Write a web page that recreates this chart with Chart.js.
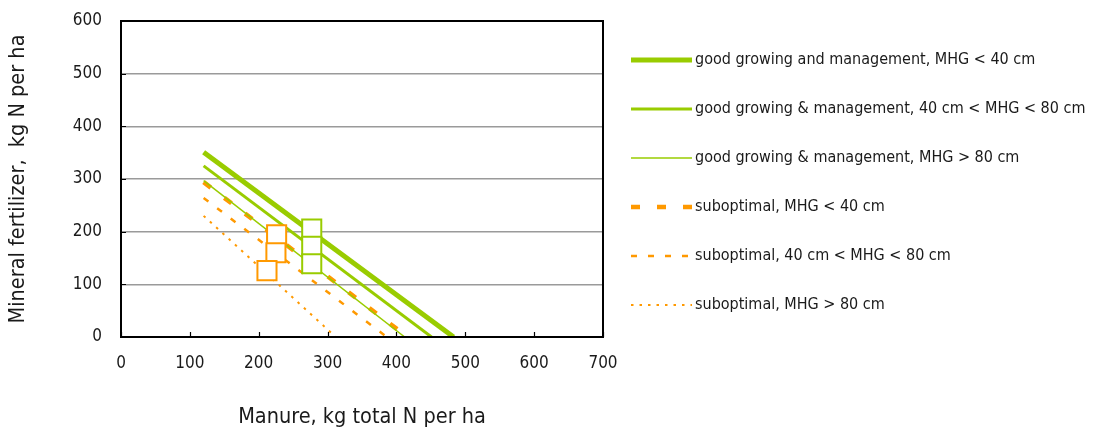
<!DOCTYPE html>
<html>
<head>
<meta charset="utf-8">
<script src="https://cdn.jsdelivr.net/npm/chart.js@4.4.0/dist/chart.umd.min.js"></script>
<style>
  html, body { margin: 0; padding: 0; background: #ffffff; }
  #wrap { width: 1093px; height: 435px; }
</style>
</head>
<body>
<div id="wrap"><canvas id="c" width="1093" height="435"></canvas></div>
<script>
// Recommended N rates: manure N (x) against mineral fertilizer N (y)
const seriesLabels = [
  'good growing and management, MHG < 40 cm',
  'good growing & management, 40 cm < MHG < 80 cm',
  'good growing & management, MHG > 80 cm',
  'suboptimal, MHG < 40 cm',
  'suboptimal, 40 cm < MHG < 80 cm',
  'suboptimal, MHG > 80 cm'
];
const seriesManure = [
  [120, 483],
  [120, 451],
  [120, 412],
  [120, 416],
  [120, 386],
  [120, 312]
];
const seriesMineral = [
  [351, 0],
  [325, 0],
  [297, 0],
  [294, 0],
  [264, 0],
  [230, 0]
];
// Marked reference points
const goodPointsManure = [277, 277, 277];
const goodPointsMineral = [205, 172, 139];
const subPointsManure = [226, 225, 212];
const subPointsMineral = [194, 160, 126];

const xTicks = [0, 100, 200, 300, 400, 500, 600, 700];
const yTicks = [0, 100, 200, 300, 400, 500, 600];

const GREEN = '#99cc00';
const ORANGE = '#ff9900';
const FONT = '"Liberation Sans Narrow", "DejaVu Sans Condensed", "Arial Narrow", sans-serif';

const lineStyles = [
  { color: GREEN, width: 5, dash: [] },
  { color: GREEN, width: 3, dash: [] },
  { color: GREEN, width: 1.5, dash: [] },
  { color: ORANGE, width: 4.5, dash: [9, 17] },
  { color: ORANGE, width: 2.5, dash: [6, 11] },
  { color: ORANGE, width: 2, dash: [2.5, 6] }
];

const toPoints = (xs, ys) => xs.map((x, i) => ({ x: x, y: ys[i] }));

const lineSets = seriesLabels.map((label, i) => ({
  label: label,
  isSeries: true,
  data: toPoints(seriesManure[i], seriesMineral[i]),
  showLine: true,
  borderColor: lineStyles[i].color,
  backgroundColor: lineStyles[i].color,
  borderWidth: lineStyles[i].width,
  borderDash: lineStyles[i].dash,
  borderCapStyle: 'butt',
  pointRadius: 0,
  order: 2
}));

const markerSets = [
  {
    label: 'good points',
    data: toPoints(goodPointsManure, goodPointsMineral),
    pointStyle: 'rect',
    pointRadius: 13.5,
    pointBorderWidth: 2,
    pointBorderColor: GREEN,
    pointBackgroundColor: '#ffffff',
    showLine: false,
    order: 1
  },
  {
    label: 'suboptimal points',
    data: toPoints(subPointsManure, subPointsMineral),
    pointStyle: 'rect',
    pointRadius: 13.5,
    pointBorderWidth: 2,
    pointBorderColor: ORANGE,
    pointBackgroundColor: '#ffffff',
    showLine: false,
    order: 1
  }
];

// Plot frame and inward tick marks
const framePlugin = {
  id: 'frame',
  afterDatasetsDraw(chart) {
    const { ctx, chartArea: a, scales } = chart;
    ctx.save();
    ctx.strokeStyle = '#000000';
    ctx.lineWidth = 1.2;
    ctx.beginPath();
    xTicks.forEach(v => {
      const px = Math.round(scales.x.getPixelForValue(v)) + 0.5;
      ctx.moveTo(px, a.bottom);
      ctx.lineTo(px, a.bottom - 5);
    });
    yTicks.forEach(v => {
      const py = Math.round(scales.y.getPixelForValue(v)) + 0.5;
      ctx.moveTo(a.left, py);
      ctx.lineTo(a.left + 5, py);
    });
    ctx.stroke();
    ctx.lineWidth = 2;
    ctx.strokeRect(a.left, a.top, a.right - a.left, a.bottom - a.top);
    ctx.restore();
  }
};

// Legend drawn beside the plot, one row per series
const legendPlugin = {
  id: 'sideLegend',
  afterDraw(chart) {
    const { ctx } = chart;
    ctx.save();
    chart.data.datasets.filter(d => d.isSeries).forEach((d, i) => {
      const y = 60 + i * 49;
      ctx.strokeStyle = d.borderColor;
      ctx.lineWidth = d.borderWidth;
      ctx.setLineDash(d.borderDash);
      ctx.lineCap = 'butt';
      ctx.beginPath();
      ctx.moveTo(631, y);
      ctx.lineTo(692, y);
      ctx.stroke();
      ctx.setLineDash([]);
      ctx.fillStyle = '#1a1a1a';
      ctx.font = '16px ' + FONT;
      ctx.textAlign = 'left';
      ctx.textBaseline = 'middle';
      ctx.fillText(d.label, 695, y);
    });
    ctx.restore();
  }
};

new Chart(document.getElementById('c'), {
  type: 'scatter',
  data: { datasets: markerSets.concat(lineSets) },
  options: {
    responsive: false,
    animation: false,
    layout: { padding: { left: 0, top: 21, right: 490, bottom: 0 } },
    plugins: {
      legend: { display: false },
      tooltip: { enabled: false }
    },
    scales: {
      x: {
        type: 'linear',
        min: 0,
        max: 700,
        afterBuildTicks: s => { s.ticks = xTicks.map(v => ({ value: v })); },
        afterFit: s => { s.height = 98; s.paddingLeft = 0; s.paddingRight = 0; },
        grid: { display: false, drawTicks: false },
        border: { display: false },
        ticks: { color: '#1a1a1a', font: { family: FONT, size: 17 }, padding: 16, maxRotation: 0 },
        title: {
          display: true,
          text: 'Manure, kg total N per ha',
          color: '#1a1a1a',
          font: { family: FONT, size: 21.5 },
          padding: { top: 0, bottom: 5 }
        }
      },
      y: {
        type: 'linear',
        min: 0,
        max: 600,
        afterBuildTicks: s => { s.ticks = yTicks.map(v => ({ value: v })); },
        afterFit: s => { s.width = 121; s.paddingTop = 0; s.paddingBottom = 0; },
        grid: { color: '#9a9a9a', lineWidth: 1.5, drawTicks: false },
        border: { display: false },
        ticks: { color: '#1a1a1a', font: { family: FONT, size: 17 }, padding: 19 },
        title: {
          display: true,
          text: 'Mineral fertilizer,  kg N per ha',
          color: '#1a1a1a',
          font: { family: FONT, size: 21.5 },
          padding: { top: 6, bottom: 0 }
        }
      }
    }
  },
  plugins: [framePlugin, legendPlugin]
});
</script>
</body>
</html>
